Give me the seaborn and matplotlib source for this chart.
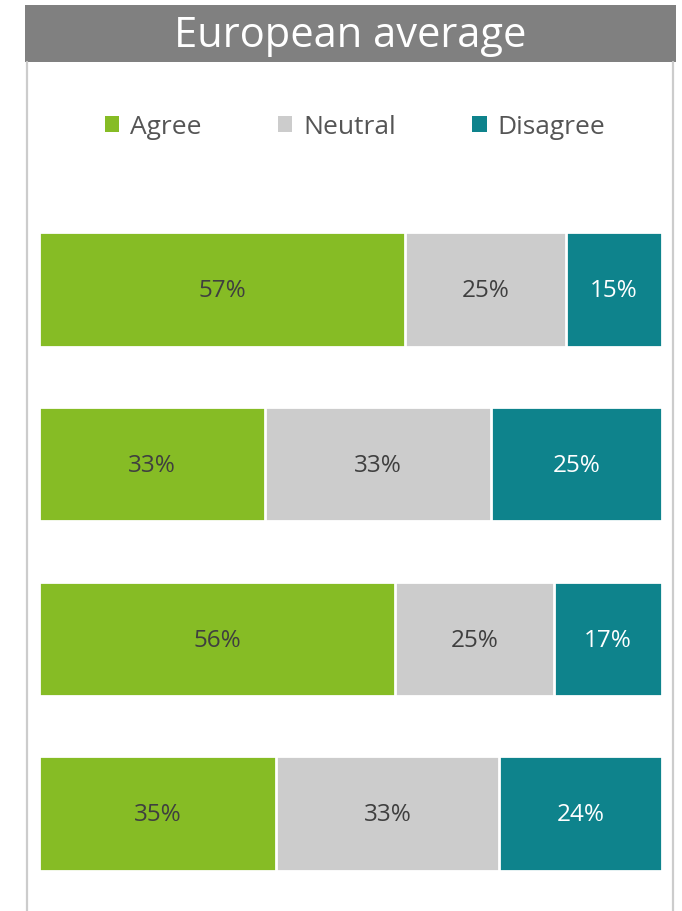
import numpy as np
import matplotlib.pyplot as plt
import seaborn as sns
import pandas as pd
from matplotlib.patches import Patch, Rectangle
from matplotlib.lines import Line2D

# Values (percent), one entry per bar, top to bottom
questions = ["Q1", "Q2", "Q3", "Q4"]
agree = [57, 33, 56, 35]
neutral = [25, 33, 25, 33]
disagree = [15, 25, 17, 24]
series_names = ["Agree", "Neutral", "Disagree"]
colors = ["#86BC25", "#CCCCCC", "#0E838C"]
label_colors = ["#3f3f3f", "#3f3f3f", "#ffffff"]

df = pd.DataFrame({"question": questions, "Agree": agree,
                   "Neutral": neutral, "Disagree": disagree})
total = df[series_names].sum(axis=1)
# bars are stretched to full width, so work with shares of the row total
shares = df[series_names].div(total, axis=0)
cum = shares.cumsum(axis=1)

sns.set_style("white")
plt.rcParams["font.family"] = ["Open Sans", "DejaVu Sans"]

fig = plt.figure(figsize=(6.82, 9.11), dpi=100)
W, H = 682, 911
ax = fig.add_axes([39 / W, (H - 871) / H, 623 / W, 639 / H])

bar_h = 0.655
# draw cumulative totals from the right so segments stack
for name, col in reversed(list(zip(series_names, colors))):
    sns.barplot(x=cum[name], y=df["question"], orient="h", color=col,
                width=bar_h, edgecolor="white", linewidth=2, ax=ax,
                saturation=1)

left = cum - shares
for i in range(len(questions)):
    for name, tc in zip(series_names, label_colors):
        ax.text(left.loc[i, name] + shares.loc[i, name] / 2, i + 0.01,
                f"{df.loc[i, name]}%", ha="center", va="center",
                fontsize=17.5, color=tc)

ax.set_xlim(0, 1.0)
ax.set_ylim(3 + bar_h / 2, -bar_h / 2)
ax.axis("off")

# title banner
fig.patches.append(Rectangle((25 / W, (H - 62) / H), 651 / W, 57 / H,
                             transform=fig.transFigure, facecolor="#808080",
                             edgecolor="none", zorder=0))
fig.text(350 / W, (H - 36) / H, "European average", ha="center",
         va="center", fontsize=30, color="white")

# frame lines below the banner
for xp in (27, 673):
    fig.add_artist(Line2D([xp / W, xp / W], [0, (H - 62) / H],
                          transform=fig.transFigure, color="#cccccc", lw=1.6))

handles = [Patch(facecolor=c, edgecolor="none", label=n)
           for n, c in zip(series_names, colors)]
fig.legend(handles=handles, loc="center", bbox_to_anchor=(355 / W, (H - 127) / H),
           ncol=3, frameon=False, fontsize=19, handlelength=0.55,
           handleheight=0.55, handletextpad=0.4, columnspacing=2.9,
           labelcolor="#555555")

fig.savefig("out.png", dpi=100)
